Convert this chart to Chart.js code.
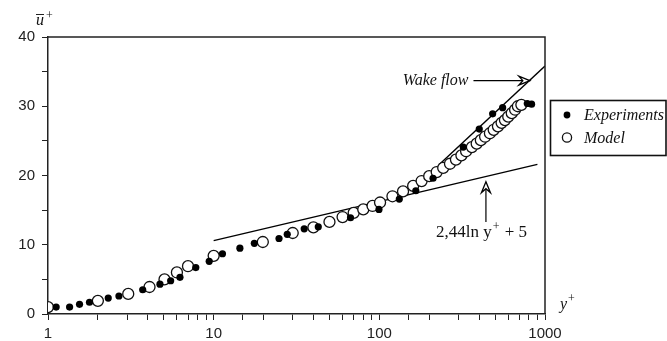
<!DOCTYPE html>
<html>
<head>
<meta charset="utf-8">
<script src="https://cdn.jsdelivr.net/npm/chart.js@4"></script>
<style>
  body { margin: 0; background: #fff; }
</style>
</head>
<body>
<canvas id="myChart" width="667" height="341"></canvas>
<script>
// values
const expX = [1.12, 1.35, 1.55, 1.78, 2.31, 2.68, 3.73, 4.74, 5.5, 6.26, 7.8, 9.4, 11.3, 14.4, 17.6, 24.8, 27.8, 35.2, 42.8, 67, 99.5, 132, 166, 211, 321, 401, 483, 555, 782, 830];
const expY = [1.0, 1.0, 1.4, 1.7, 2.3, 2.6, 3.5, 4.3, 4.8, 5.3, 6.7, 7.6, 8.7, 9.5, 10.2, 10.9, 11.5, 12.3, 12.6, 13.9, 15.1, 16.6, 17.8, 19.6, 24.1, 26.7, 28.9, 29.8, 30.4, 30.3];

const modelX = [1.0, 2.0, 3.05, 4.1, 5.05, 6.0, 7.0, 10, 19.8, 30, 40, 50, 60, 70, 80, 91, 101, 120, 139, 160, 180, 200, 222, 243, 267, 290, 313, 334, 362, 387, 410, 435, 465, 490, 520, 547, 573, 600, 630, 660, 686, 720];
const modelY = [1.0, 1.9, 2.9, 3.9, 5.0, 6.0, 6.9, 8.4, 10.4, 11.7, 12.5, 13.3, 14.0, 14.6, 15.1, 15.6, 16.1, 17.0, 17.7, 18.5, 19.2, 19.9, 20.5, 21.1, 21.7, 22.3, 22.9, 23.5, 24.1, 24.6, 25.1, 25.6, 26.1, 26.6, 27.1, 27.6, 28.0, 28.5, 29.0, 29.5, 30.0, 30.2];

const logLawX = [10, 900];
const logLawY = [10.6, 21.6];

const wakeX = [230, 1000];
const wakeY = [21.6, 35.8];

const xTickLabels = [1, 10, 100, 1000];
const yTickLabels = [0, 10, 20, 30, 40];

const toPts = (xs, ys) => xs.map((x, i) => ({x: x, y: ys[i]}));

const serif = '"Liberation Serif", "DejaVu Serif", serif';

function arrowHead(c, tx, ty, ang) {
  // open arrow head, outline only
  c.save();
  c.translate(tx, ty);
  c.rotate(ang);
  c.beginPath();
  c.moveTo(0, 0);
  c.lineTo(-11, -4.5);
  c.lineTo(-7, 0);
  c.lineTo(-11, 4.5);
  c.closePath();
  c.fillStyle = '#fff';
  c.fill();
  c.lineWidth = 1.3;
  c.strokeStyle = '#000';
  c.stroke();
  c.restore();
}

const extras = {
  id: 'extras',
  afterDraw(chart) {
    const c = chart.ctx;
    const a = chart.chartArea;
    const xs = chart.scales.x, ys = chart.scales.y;
    c.save();
    // frame top + right
    c.strokeStyle = '#222';
    c.lineWidth = 1.5;
    c.beginPath();
    c.moveTo(a.left, a.top);
    c.lineTo(a.right, a.top);
    c.lineTo(a.right, a.bottom);
    c.stroke();

    // axis titles
    c.fillStyle = '#111';
    c.font = 'italic 16px ' + serif;
    c.textBaseline = 'alphabetic';
    c.textAlign = 'left';
    c.fillText('u', 36, 25);
    c.lineWidth = 1;
    c.beginPath();
    c.moveTo(36, 14.5);
    c.lineTo(44, 14.5);
    c.stroke();
    c.font = '12px ' + serif;
    c.fillText('+', 46, 19);

    c.font = 'italic 16px ' + serif;
    c.fillText('y', 560, 309);
    c.font = '12px ' + serif;
    c.fillText('+', 568, 302);

    // wake flow label + arrow
    const wy = ys.getPixelForValue(33.7);
    const wx0 = xs.getPixelForValue(370);
    const wx1 = xs.getPixelForValue(810);
    c.font = 'italic 16px ' + serif;
    c.textAlign = 'right';
    c.textBaseline = 'middle';
    c.fillText('Wake flow', wx0 - 5, wy);
    c.strokeStyle = '#000';
    c.lineWidth = 1.2;
    c.beginPath();
    c.moveTo(wx0, wy);
    c.lineTo(wx1 - 7, wy);
    c.stroke();
    arrowHead(c, wx1, wy, 0);

    // log law label + arrow
    const lx = xs.getPixelForValue(440);
    const ly0 = ys.getPixelForValue(13.3);
    const ly1 = ys.getPixelForValue(19.1);
    c.beginPath();
    c.moveTo(lx, ly0);
    c.lineTo(lx, ly1 + 7);
    c.stroke();
    arrowHead(c, lx, ly1, -Math.PI / 2);
    c.textAlign = 'left';
    c.textBaseline = 'alphabetic';
    c.fillStyle = '#111';
    const tBase = ly0 + 15;
    let tx = lx - 50;
    c.font = '17px ' + serif;
    c.fillText('2,44ln ', tx, tBase);
    tx += c.measureText('2,44ln ').width;
    c.font = '17px ' + serif;
    c.fillText('y', tx, tBase);
    tx += c.measureText('y').width;
    c.font = '12px ' + serif;
    c.fillText('+', tx + 1, tBase - 7);
    tx += c.measureText('+').width + 2;
    c.font = '17px ' + serif;
    c.fillText(' + 5', tx, tBase);

    // legend
    const ds = chart.data.datasets;
    c.strokeStyle = '#111';
    c.lineWidth = 1.6;
    c.strokeRect(550.5, 100.5, 115.5, 55);
    const items = [ds[0], ds[1]];
    items.forEach((d, i) => {
      const y = 115 + i * 22.5;
      c.beginPath();
      c.arc(567, y, i === 0 ? 3.4 : 4.6, 0, Math.PI * 2);
      c.fillStyle = d.backgroundColor;
      c.fill();
      if (d.borderWidth) {
        c.lineWidth = 1.3;
        c.strokeStyle = d.borderColor;
        c.stroke();
      }
      c.fillStyle = '#111';
      c.font = 'italic 16px ' + serif;
      c.textBaseline = 'middle';
      c.fillText(d.label, 584, y + 1);
    });
    c.restore();
  }
};

const config = {
  type: 'scatter',
  data: {
    datasets: [
      {
        label: 'Experiments',
        data: toPts(expX, expY),
        pointRadius: 3.6,
        pointHoverRadius: 3.6,
        backgroundColor: '#000',
        borderColor: '#000',
        borderWidth: 0,
        order: 0
      },
      {
        label: 'Model',
        data: toPts(modelX, modelY),
        pointRadius: 5.5,
        pointHoverRadius: 5.5,
        backgroundColor: '#fff',
        borderColor: '#111',
        borderWidth: 1.3,
        order: 1
      },
      {
        label: 'log law',
        data: toPts(logLawX, logLawY),
        showLine: true,
        pointRadius: 0,
        borderColor: '#000',
        borderWidth: 1.4,
        order: 2
      },
      {
        label: 'wake',
        data: toPts(wakeX, wakeY),
        showLine: true,
        pointRadius: 0,
        borderColor: '#000',
        borderWidth: 1.4,
        order: 2
      }
    ]
  },
  options: {
    responsive: false,
    devicePixelRatio: 1,
    animation: false,
    layout: { padding: { top: 37, right: 122, left: 0, bottom: 0 } },
    plugins: { legend: { display: false }, tooltip: { enabled: false } },
    scales: {
      x: {
        type: 'logarithmic',
        min: 1,
        max: 1000,
        afterFit: (s) => { s.height = 27; },
        border: { color: '#222', width: 1.5 },
        grid: { drawOnChartArea: false, drawTicks: true, tickLength: 6, color: '#222' },
        ticks: {
          autoSkip: false,
          maxRotation: 0,
          padding: 5,
          color: '#222',
          font: { family: '"Liberation Sans", Arial, sans-serif', size: 15 },
          callback: (v) => xTickLabels.includes(v) ? String(v) : ''
        }
      },
      y: {
        min: 0,
        max: 40,
        afterFit: (s) => { s.width = 48; },
        border: { color: '#222', width: 1.5 },
        grid: { drawOnChartArea: false, drawTicks: true, tickLength: 6, color: '#222' },
        ticks: {
          stepSize: 5,
          padding: 7,
          color: '#222',
          font: { family: '"Liberation Sans", Arial, sans-serif', size: 15 },
          callback: (v) => yTickLabels.includes(v) ? String(v) : ''
        }
      }
    }
  },
  plugins: [extras]
};

const myChart = new Chart(document.getElementById('myChart'), config);
</script>
</body>
</html>
